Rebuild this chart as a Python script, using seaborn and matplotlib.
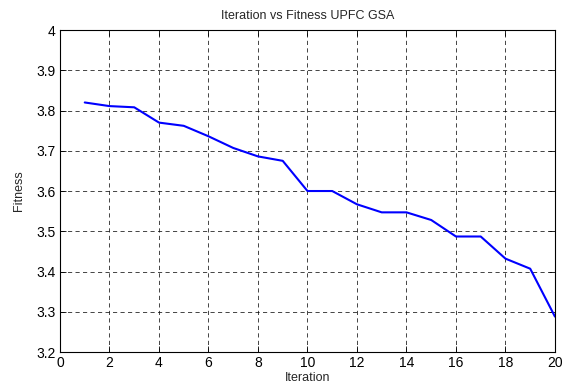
import matplotlib
matplotlib.use("Agg")
import matplotlib.pyplot as plt
import seaborn as sns
import pandas as pd

iteration = list(range(1, 21))
fitness = [3.820, 3.811, 3.808, 3.770, 3.762, 3.736, 3.707, 3.686, 3.675, 3.600,
           3.600, 3.567, 3.547, 3.547, 3.528, 3.487, 3.487, 3.432, 3.407, 3.288]
x_ticks = list(range(0, 21, 2))
y_ticks = [3.2, 3.3, 3.4, 3.5, 3.6, 3.7, 3.8, 3.9, 4.0]
y_labels = ["3.2", "3.3", "3.4", "3.5", "3.6", "3.7", "3.8", "3.9", "4"]

sns.set_style("white")
plt.rcParams['font.family'] = ['Liberation Sans', 'DejaVu Sans']

df = pd.DataFrame({"Iteration": iteration, "Fitness": fitness})

fig = plt.figure(figsize=(5.65, 3.85), dpi=100)
ax = fig.add_axes([0.1062, 0.0857, 0.876, 0.8363])
sns.lineplot(data=df, x="Iteration", y="Fitness", color="#0000ff", linewidth=1.5, ax=ax)

ax.set_xlim(0, 20)
ax.set_ylim(3.2, 4.0)
ax.set_xticks(x_ticks)
ax.set_xticklabels([str(t) for t in x_ticks])
ax.set_yticks(y_ticks)
ax.set_yticklabels(y_labels)
ax.grid(True, color="black", linestyle=(0, (5, 4)), linewidth=0.6, alpha=0.85)
ax.tick_params(direction="in", length=4, width=0.6, labelsize=10, colors="black",
               top=True, right=True, bottom=True, left=True, pad=3)
for s in ax.spines.values():
    s.set_color("black")
    s.set_linewidth(0.8)
ax.set_xlabel("Iteration", fontsize=9, labelpad=1)
ax.set_ylabel("Fitness", fontsize=9, labelpad=8)
ax.set_title("Iteration vs Fitness UPFC GSA", fontsize=9, pad=8)

fig.savefig("out.png", dpi=100)
